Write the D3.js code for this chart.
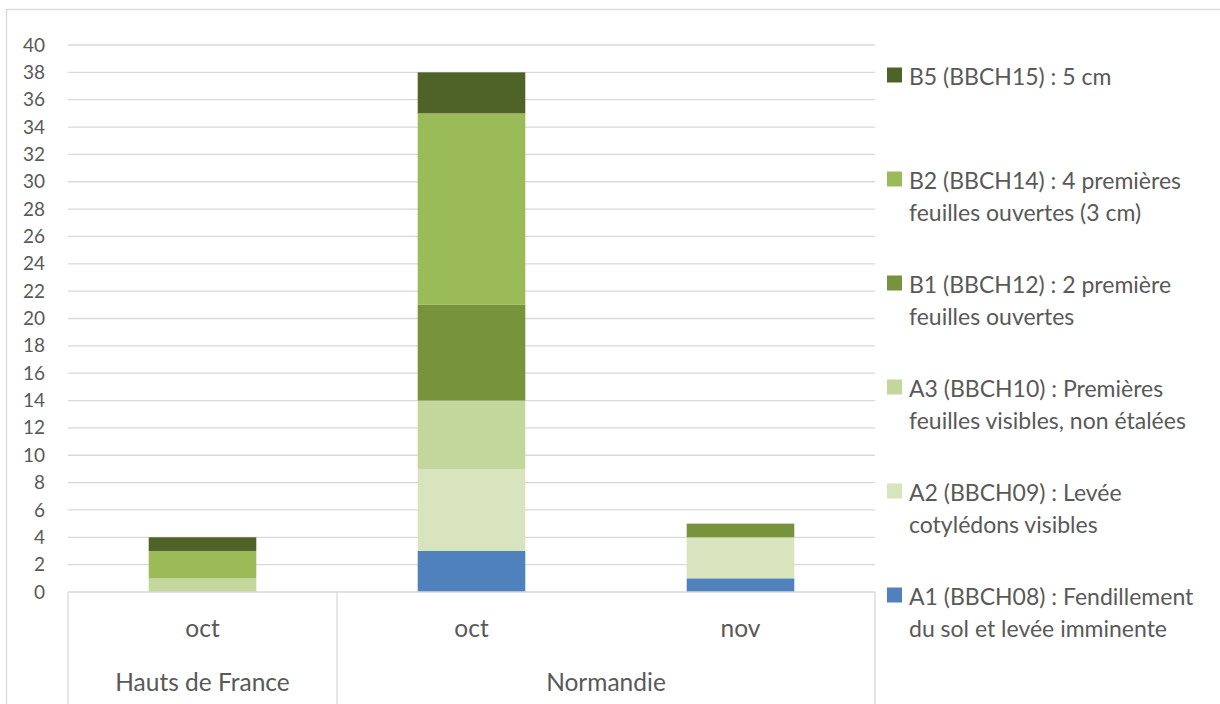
<!DOCTYPE html>
<html>
<head>
<meta charset="utf-8">
<script src="https://cdn.jsdelivr.net/npm/d3@7"></script>
<style>
  html, body { margin: 0; padding: 0; background: #fff; }
  svg { display: block; font-family: Lato, "Open Sans", sans-serif; }
</style>
</head>
<body>
<svg id="chart" width="1220" height="704"></svg>
<script>
// Categories (region / month)
const regions = ['Hauts de France', 'Normandie', 'Normandie'];
const months = ['oct', 'oct', 'nov'];

// Series, bottom to top of stack
const seriesNames = [
  'A1 (BBCH08) : Fendillement du sol et levée imminente',
  'A2 (BBCH09) : Levée cotylédons visibles',
  'A3 (BBCH10) : Premières feuilles visibles, non étalées',
  'B1 (BBCH12) : 2 première feuilles ouvertes',
  'B2 (BBCH14) : 4 premières feuilles ouvertes (3 cm)',
  'B5 (BBCH15) : 5 cm'
];
const legendLines = [
  ['A1 (BBCH08) : Fendillement', 'du sol et levée imminente'],
  ['A2 (BBCH09) : Levée', 'cotylédons visibles'],
  ['A3 (BBCH10) : Premières', 'feuilles visibles, non étalées'],
  ['B1 (BBCH12) : 2 première', 'feuilles ouvertes'],
  ['B2 (BBCH14) : 4 premières', 'feuilles ouvertes (3 cm)'],
  ['B5 (BBCH15) : 5 cm']
];
const colors = ['#4f81bd', '#d7e4bd', '#c3d69b', '#77933c', '#9bbb59', '#4f6228'];

const a1 = [0, 3, 1];
const a2 = [0, 6, 3];
const a3 = [1, 5, 0];
const b1 = [0, 7, 1];
const b2 = [2, 14, 0];
const b5 = [1, 3, 0];

const yTicks = d3.range(0, 41, 2);

// ---- layout
const svg = d3.select('#chart');
const plot = { left: 68, right: 875, top: 45, bottom: 592 };
const textColor = '#595959';
const gridColor = '#d9d9d9';

// outer border
svg.append('rect')
  .attr('x', 6.5).attr('y', 9.5).attr('width', 1230).attr('height', 720)
  .attr('fill', 'none').attr('stroke', gridColor).attr('stroke-width', 1.3);

const keys = months.map((m, i) => i);
const x = d3.scaleBand().domain(keys).range([plot.left, plot.right])
  .paddingInner(0.6).paddingOuter(0.3);
const y = d3.scaleLinear().domain([0, 40]).range([plot.bottom, plot.top]);

// gridlines
svg.append('g')
  .selectAll('line')
  .data(yTicks.filter(t => t > 0))
  .join('line')
  .attr('x1', plot.left).attr('x2', plot.right)
  .attr('y1', d => y(d)).attr('y2', d => y(d))
  .attr('stroke', gridColor).attr('stroke-width', 1.3);

// y axis labels
const yAxis = svg.append('g')
  .attr('transform', `translate(${plot.left - 23},0)`)
  .call(d3.axisLeft(y).tickValues(yTicks).tickSize(0).tickPadding(0));
yAxis.select('.domain').remove();
yAxis.selectAll('text')
  .attr('fill', textColor)
  .attr('font-size', 19)
  .attr('font-family', 'Lato, sans-serif');

// stacked data
const table = keys.map(i => ({
  key: i, s0: a1[i], s1: a2[i], s2: a3[i], s3: b1[i], s4: b2[i], s5: b5[i]
}));
const stack = d3.stack().keys(['s0', 's1', 's2', 's3', 's4', 's5'])(table);

svg.append('g')
  .selectAll('g')
  .data(stack)
  .join('g')
  .attr('fill', (d, i) => colors[i])
  .selectAll('rect')
  .data(d => d.filter(p => p[1] - p[0] > 0))
  .join('rect')
  .attr('x', d => x(d.data.key))
  .attr('width', x.bandwidth())
  .attr('y', d => y(d[1]))
  .attr('height', d => y(d[0]) - y(d[1]));

// category axis: baseline + separators
const axisG = svg.append('g').attr('stroke', gridColor).attr('stroke-width', 1.3);
axisG.append('line')
  .attr('x1', plot.left).attr('x2', plot.right)
  .attr('y1', plot.bottom).attr('y2', plot.bottom);

// group boundaries
const groups = [];
regions.forEach((r, i) => {
  const last = groups[groups.length - 1];
  if (last && last.name === r) last.end = i;
  else groups.push({ name: r, start: i, end: i });
});
const step = x.step();
const edge = i => plot.left + i * step;
const boundaries = [0].concat(groups.map(g => g.end + 1));
axisG.selectAll('line.sep')
  .data(boundaries)
  .join('line')
  .attr('class', 'sep')
  .attr('x1', d => edge(d)).attr('x2', d => edge(d))
  .attr('y1', plot.bottom).attr('y2', 704);

// month labels
svg.append('g')
  .selectAll('text')
  .data(keys)
  .join('text')
  .attr('x', d => x(d) + x.bandwidth() / 2)
  .attr('y', 637)
  .attr('text-anchor', 'middle')
  .attr('font-size', 24.5)
  .attr('fill', textColor)
  .text(d => months[d]);

// region labels
svg.append('g')
  .selectAll('text')
  .data(groups)
  .join('text')
  .attr('x', g => (edge(g.start) + edge(g.end + 1)) / 2)
  .attr('y', 691)
  .attr('text-anchor', 'middle')
  .attr('font-size', 24.5)
  .attr('fill', textColor)
  .text(g => g.name);

// legend (top item = last series)
const legendOrder = d3.range(seriesNames.length).reverse();
const legend = svg.append('g');
const item = legend.selectAll('g')
  .data(legendOrder)
  .join('g')
  .attr('transform', (d, i) => `translate(887,${75 + i * 104})`);
item.append('rect')
  .attr('x', 0).attr('y', -7.5).attr('width', 15).attr('height', 15)
  .attr('fill', d => colors[d]);
item.append('text')
  .attr('x', 22)
  .attr('font-size', 23)
  .attr('fill', textColor)
  .selectAll('tspan')
  .data(d => legendLines[d])
  .join('tspan')
  .attr('x', 22)
  .attr('y', (t, j) => 10 + j * 32)
  .text(t => t);
</script>
</body>
</html>
